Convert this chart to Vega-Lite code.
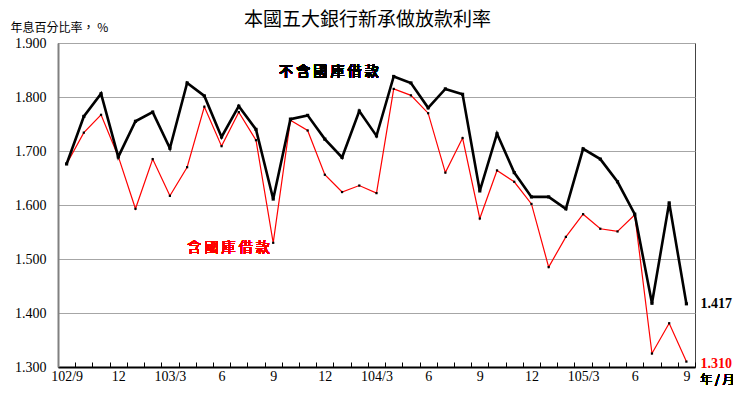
{
  "$schema": "https://vega.github.io/schema/vega-lite/v6.json",
  "width": 637,
  "height": 324,
  "autosize": {"type": "none"},
  "padding": {"left": 58, "top": 43, "right": 50, "bottom": 28},
  "background": "white",
  "config": {
    "view": {"stroke": "#444444", "strokeWidth": 1},
    "font": "Liberation Serif"
  },
  "title": {
    "text": "本國五大銀行新承做放款利率",
    "font": "Noto Sans CJK TC",
    "fontSize": 19,
    "fontWeight": "normal",
    "color": "black",
    "anchor": "middle",
    "frame": "group",
    "dx": -9,
    "baseline": "bottom",
    "offset": -28
  },
  "data": {
    "values": [
      {"m": "102/9", "a": 1.676, "b": 1.676},
      {"m": "102/10", "a": 1.764, "b": 1.734},
      {"m": "102/11", "a": 1.806, "b": 1.767},
      {"m": "102/12", "a": 1.689, "b": 1.690},
      {"m": "103/1", "a": 1.755, "b": 1.593},
      {"m": "103/2", "a": 1.772, "b": 1.685},
      {"m": "103/3", "a": 1.705, "b": 1.617},
      {"m": "103/4", "a": 1.826, "b": 1.670},
      {"m": "103/5", "a": 1.802, "b": 1.782},
      {"m": "103/6", "a": 1.726, "b": 1.709},
      {"m": "103/7", "a": 1.783, "b": 1.772},
      {"m": "103/8", "a": 1.740, "b": 1.720},
      {"m": "103/9", "a": 1.611, "b": 1.530},
      {"m": "103/10", "a": 1.759, "b": 1.757},
      {"m": "103/11", "a": 1.766, "b": 1.738},
      {"m": "103/12", "a": 1.722, "b": 1.656},
      {"m": "104/1", "a": 1.688, "b": 1.624},
      {"m": "104/2", "a": 1.774, "b": 1.636},
      {"m": "104/3", "a": 1.728, "b": 1.622},
      {"m": "104/4", "a": 1.838, "b": 1.815},
      {"m": "104/5", "a": 1.826, "b": 1.803},
      {"m": "104/6", "a": 1.780, "b": 1.770},
      {"m": "104/7", "a": 1.815, "b": 1.660},
      {"m": "104/8", "a": 1.805, "b": 1.724},
      {"m": "104/9", "a": 1.626, "b": 1.575},
      {"m": "104/10", "a": 1.732, "b": 1.664},
      {"m": "104/11", "a": 1.660, "b": 1.643},
      {"m": "104/12", "a": 1.615, "b": 1.602},
      {"m": "105/1", "a": 1.615, "b": 1.485},
      {"m": "105/2", "a": 1.593, "b": 1.541},
      {"m": "105/3", "a": 1.704, "b": 1.583},
      {"m": "105/4", "a": 1.685, "b": 1.556},
      {"m": "105/5", "a": 1.643, "b": 1.551},
      {"m": "105/6", "a": 1.583, "b": 1.582},
      {"m": "105/7", "a": 1.418, "b": 1.325},
      {"m": "105/8", "a": 1.604, "b": 1.381},
      {"m": "105/9", "a": 1.417, "b": 1.310}
    ]
  },
  "encoding": {
    "x": {
      "field": "m",
      "type": "ordinal",
      "sort": null,
      "bandPosition": 0.5,
      "scale": {"type": "band", "paddingInner": 0, "paddingOuter": 0},
      "axis": {
        "title": null,
        "tickBand": "extent",
        "tickSize": -5,
        "tickColor": "black",
        "tickWidth": 1,
        "domainColor": "black",
        "domainWidth": 2,
        "labelAngle": 0,
        "labelFont": "Liberation Serif",
        "labelFontSize": 14,
        "labelColor": "black",
        "labelPadding": 7,
        "labelOverlap": false,
        "labelExpr": "indexof(['102/9','103/3','104/3','105/3'], datum.value) >= 0 ? datum.value : (indexof(['6','9','12'], split(datum.value,'/')[1]) >= 0 ? split(datum.value,'/')[1] : '')"
      }
    }
  },
  "layer": [
    {
      "mark": {"type": "line", "color": "#ff0000", "strokeWidth": 1.2},
      "encoding": {
        "y": {
          "field": "b",
          "type": "quantitative",
          "scale": {"domain": [1.3, 1.9], "nice": false, "zero": false},
          "axis": {
            "values": [1.3, 1.4, 1.5, 1.6, 1.7, 1.8, 1.9],
            "format": ".3f",
            "title": "年息百分比率， %",
            "titleFont": "Noto Sans CJK TC",
            "titleFontSize": 12,
            "titleFontWeight": "normal",
            "titleColor": "black",
            "titleAngle": 0,
            "titleAlign": "left",
            "titleBaseline": "middle",
            "titleX": -48,
            "titleY": -16,
            "grid": true,
            "gridColor": "#a6a6a6",
            "gridWidth": 1.2,
            "tickSize": 0,
            "domainColor": "#808080",
            "domainWidth": 2,
            "labelFont": "Liberation Serif",
            "labelFontSize": 14,
            "labelColor": "black",
            "labelPadding": 12
          }
        }
      }
    },
    {
      "mark": {"type": "point", "shape": "square", "filled": true, "color": "black", "size": 5, "opacity": 1},
      "encoding": {"y": {"field": "b", "type": "quantitative"}}
    },
    {
      "mark": {"type": "line", "color": "black", "strokeWidth": 2.6},
      "encoding": {"y": {"field": "a", "type": "quantitative"}}
    },
    {
      "mark": {"type": "point", "shape": "square", "filled": true, "color": "black", "size": 10, "opacity": 1},
      "encoding": {"y": {"field": "a", "type": "quantitative"}}
    },
    {
      "transform": [{"filter": "datum.m == '105/9'"}],
      "mark": {"type": "text", "align": "left", "baseline": "middle", "dx": 14, "font": "Liberation Serif", "fontSize": 14, "fontWeight": "bold", "color": "black"},
      "encoding": {
        "y": {"field": "a", "type": "quantitative"},
        "text": {"field": "a", "type": "quantitative", "format": ".3f"}
      }
    },
    {
      "transform": [{"filter": "datum.m == '105/9'"}],
      "mark": {"type": "text", "align": "left", "baseline": "middle", "dx": 14, "dy": 2, "font": "Liberation Serif", "fontSize": 14, "fontWeight": "bold", "color": "#ff0000"},
      "encoding": {
        "y": {"field": "b", "type": "quantitative"},
        "text": {"field": "b", "type": "quantitative", "format": ".3f"}
      }
    },
    {
      "mark": {"type": "text", "align": "center", "baseline": "middle", "dx": 4, "font": "Noto Sans CJK TC", "fontSize": 14, "fontWeight": 500, "color": "black", "text": "不 含 國 庫 借 款"},
      "encoding": {
        "x": {"datum": "103/12"},
        "y": {"datum": 1.846}
      }
    },
    {
      "mark": {"type": "text", "align": "center", "baseline": "middle", "dx": 7, "font": "Noto Sans CJK TC", "fontSize": 14, "fontWeight": "normal", "color": "#ff0000", "text": "含 國 庫 借 款"},
      "encoding": {
        "x": {"datum": "103/6"},
        "y": {"datum": 1.52}
      }
    },
    {
      "mark": {"type": "text", "align": "center", "baseline": "middle", "dx": 31, "dy": 13, "font": "Noto Sans CJK TC", "fontSize": 12, "color": "black", "text": "年 / 月"},
      "encoding": {
        "x": {"datum": "105/9"},
        "y": {"datum": 1.3}
      }
    }
  ]
}
